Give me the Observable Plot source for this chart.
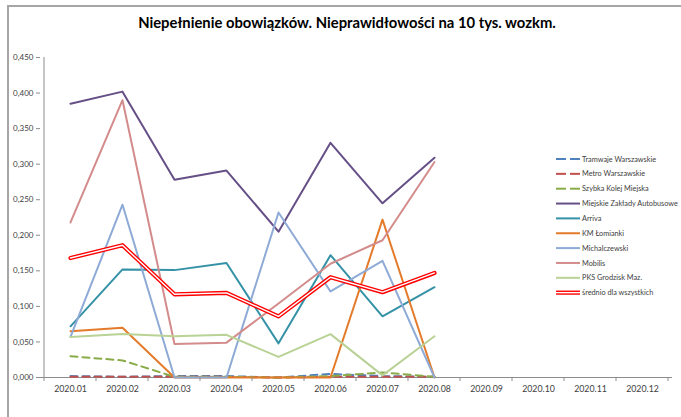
<!DOCTYPE html>
<html>
<head>
<meta charset="utf-8">
<script src="https://cdn.jsdelivr.net/npm/d3@7"></script>
<script src="https://cdn.jsdelivr.net/npm/@observablehq/plot@0.6"></script>
<style>
  html, body { margin: 0; padding: 0; background: #fff; }
  #wrap { position: relative; width: 681px; height: 417px; overflow: hidden; font-family: Lato, "Open Sans", sans-serif; }
  #border { position: absolute; left: 7px; top: 5px; width: 700px; height: 430px; border-top: 2px solid #a6a6a6; border-left: 2px solid #a6a6a6; box-sizing: border-box; }
  #title { position: absolute; left: 0; top: 13px; width: 694px; text-align: center; font-weight: bold; font-size: 14.8px; color: #000; }
  #chart { position: absolute; left: 0; top: 0; }
</style>
</head>
<body>
<div id="wrap">
  <div id="border"></div>
  <div id="chart"></div>
  <div id="title">Niepełnienie obowiązków. Nieprawidłowości na 10 tys. wozkm.</div>
</div>
<script>
const months = ["2020.01","2020.02","2020.03","2020.04","2020.05","2020.06","2020.07","2020.08","2020.09","2020.10","2020.11","2020.12"];
const yTicks = [0, 0.05, 0.10, 0.15, 0.20, 0.25, 0.30, 0.35, 0.40, 0.45];

const seriesNames = ["Tramwaje Warszawskie","Metro Warszawskie","Szybka Kolej Miejska","Miejskie Zakłady Autobusowe","Arriva","KM Łomianki","Michalczewski","Mobilis","PKS Grodzisk Maz.","średnio dla wszystkich"];

const tramwaje      = [0.002, 0.001, 0.002, 0.002, 0.000, 0.005, 0.002, 0.001];
const metro         = [0.001, 0.001, 0.001, 0.001, 0.000, 0.001, 0.001, 0.001];
const skm           = [0.030, 0.024, 0.001, 0.001, 0.000, 0.002, 0.007, 0.001];
const mza           = [0.385, 0.402, 0.278, 0.291, 0.205, 0.330, 0.245, 0.309];
const arriva        = [0.072, 0.152, 0.151, 0.161, 0.048, 0.172, 0.086, 0.127];
const kmLomianki    = [0.065, 0.070, 0.000, 0.000, 0.000, 0.000, 0.222, 0.000];
const michalczewski = [0.057, 0.243, 0.000, 0.000, 0.232, 0.121, 0.164, 0.000];
const mobilis       = [0.218, 0.390, 0.047, 0.049, 0.104, 0.160, 0.193, 0.303];
const pks           = [0.057, 0.061, 0.058, 0.060, 0.029, 0.061, 0.003, 0.058];
const srednio       = [0.168, 0.186, 0.117, 0.119, 0.086, 0.141, 0.120, 0.147];

const values = [tramwaje, metro, skm, mza, arriva, kmLomianki, michalczewski, mobilis, pks, srednio];
const colors = ["#4f81bd","#c0504d","#8aac48","#654f86","#3592a6","#e37b2b","#8eaad6","#d38b8b","#b9d295","#ff0000"];
const dashed = [true, true, true, false, false, false, false, false, false, false];

const series = seriesNames.map((name, i) => ({
  name, color: colors[i], dashed: dashed[i],
  rows: values[i].map((v, j) => ({month: months[j], value: v}))
}));

const fmt = d => d3.format(".3f")(d).replace(".", ",");
const textColor = "#404040";
const axisColor = "#8c8c8c";

const lineMarks = [];
series.forEach((s, i) => {
  if (i === series.length - 1) {
    lineMarks.push(Plot.line(s.rows, {x: "month", y: "value", stroke: s.color, strokeWidth: 4.2}));
    lineMarks.push(Plot.line(s.rows, {x: "month", y: "value", stroke: "#ffffff", strokeWidth: 1.4}));
  } else {
    lineMarks.push(Plot.line(s.rows, {x: "month", y: "value", stroke: s.color, strokeWidth: 2, strokeDasharray: s.dashed ? "7,5" : null}));
  }
});

const plot = Plot.plot({
  width: 681,
  height: 417,
  marginLeft: 40,
  marginRight: 9,
  marginTop: 57,
  marginBottom: 40,
  style: {fontFamily: "Lato, 'Open Sans', sans-serif", background: "transparent"},
  x: {type: "point", domain: months, padding: 0.5, label: null},
  y: {domain: [0, 0.45], label: null},
  marks: [
    Plot.axisY({ticks: yTicks, tickFormat: fmt, tickSize: 4, tickPadding: 3, fontSize: 8, stroke: axisColor, fill: textColor, label: null}),
    Plot.axisX({tickSize: 0, tickPadding: 8, fontSize: 8.8, fill: textColor, label: null}),
    Plot.ruleY([0], {stroke: axisColor, strokeWidth: 1}),
    ...lineMarks
  ]
});

document.getElementById("chart").appendChild(plot);

// axis decorations derived from the plot's scales
const svg = d3.select(plot);
const xs = plot.scale("x");
const ys = plot.scale("y");
const step = xs.apply(months[1]) - xs.apply(months[0]);
const y0 = ys.apply(0);
const bounds = months.map(m => xs.apply(m) - step / 2).concat([xs.apply(months[months.length - 1]) + step / 2]);
const g = svg.append("g").attr("stroke", axisColor).attr("stroke-width", 1);
g.selectAll("line.bt").data(bounds).join("line")
  .attr("x1", d => d).attr("x2", d => d).attr("y1", y0).attr("y2", y0 + 4);
g.append("line").attr("x1", bounds[0]).attr("x2", bounds[0]).attr("y1", ys.apply(0)).attr("y2", ys.apply(0.45));

// legend
const leg = svg.append("g").attr("font-size", 7.3).attr("fill", textColor).attr("text-anchor", "start");
series.forEach((s, i) => {
  const y = 159 + i * 14.85;
  if (s.dashed) {
    leg.append("line").attr("x1", 556).attr("x2", 566).attr("y1", y).attr("y2", y).attr("stroke", s.color).attr("stroke-width", 2);
    leg.append("line").attr("x1", 570).attr("x2", 580).attr("y1", y).attr("y2", y).attr("stroke", s.color).attr("stroke-width", 2);
  } else if (i === series.length - 1) {
    leg.append("line").attr("x1", 556).attr("x2", 580).attr("y1", y).attr("y2", y).attr("stroke", s.color).attr("stroke-width", 4.2);
    leg.append("line").attr("x1", 556).attr("x2", 580).attr("y1", y).attr("y2", y).attr("stroke", "#fff").attr("stroke-width", 1.4);
  } else {
    leg.append("line").attr("x1", 556).attr("x2", 580).attr("y1", y).attr("y2", y).attr("stroke", s.color).attr("stroke-width", 2);
  }
  leg.append("text").attr("x", 582).attr("y", y).attr("dy", "0.35em").attr("text-anchor", "start").attr("stroke", "none").text(s.name);
});
</script>
</body>
</html>
